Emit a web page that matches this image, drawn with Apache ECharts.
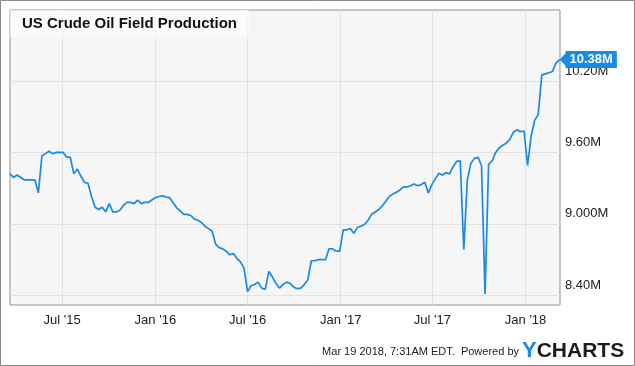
<!DOCTYPE html>
<html>
<head>
<meta charset="utf-8">
<script src="https://cdn.jsdelivr.net/npm/echarts@6/dist/echarts.min.js"></script>
<style>
	html, body { margin: 0; padding: 0; background: #fff; }
	#chart { width: 635px; height: 366px; }
</style>
</head>
<body>
<div id="chart"></div>
<script>
/* weekly field production, million barrels/day, weeks ending Friday */
var firstWeek = '2015-03-20';
var production = [
	9.42, 9.39, 9.41, 9.39, 9.37, 9.37, 9.37, 9.37, 9.26, 9.57,
	9.59, 9.61, 9.59, 9.60, 9.60, 9.60, 9.56, 9.56, 9.42, 9.46,
	9.40, 9.35, 9.34, 9.23, 9.14, 9.12, 9.14, 9.10, 9.17, 9.10,
	9.10, 9.115, 9.155, 9.18, 9.18, 9.17, 9.20, 9.17, 9.18, 9.18,
	9.20, 9.22, 9.23, 9.235, 9.225, 9.22, 9.18, 9.135, 9.11, 9.08,
	9.08, 9.07, 9.04, 9.03, 9.01, 8.98, 8.96, 8.94, 8.83, 8.80,
	8.79, 8.77, 8.74, 8.75, 8.71, 8.68, 8.63, 8.43, 8.48, 8.49,
	8.51, 8.46, 8.45, 8.60, 8.555, 8.50, 8.46, 8.49, 8.51, 8.50,
	8.47, 8.455, 8.46, 8.49, 8.53, 8.69, 8.69, 8.70, 8.70, 8.70,
	8.79, 8.79, 8.77, 8.77, 8.95, 8.95, 8.96, 8.92, 8.97, 8.98,
	8.995, 9.03, 9.08, 9.10, 9.12, 9.15, 9.19, 9.23, 9.25, 9.265,
	9.285, 9.31, 9.31, 9.32, 9.335, 9.32, 9.33, 9.35, 9.26, 9.33,
	9.38, 9.425, 9.41, 9.43, 9.42, 9.48, 9.525, 9.53, 8.785, 9.37,
	9.51, 9.55, 9.56, 9.49, 8.41, 9.50, 9.53, 9.60, 9.64, 9.66,
	9.68, 9.71, 9.77, 9.79, 9.775, 9.78, 9.49, 9.74, 9.87, 9.92,
	10.25, 10.26, 10.27, 10.28, 10.35, 10.38
];
var xTickDates = ['2015-07-01', '2016-01-01', '2016-07-01', '2017-01-01', '2017-07-01', '2018-01-01'];
var xTickLabels = ["Jul '15", "Jan '16", "Jul '16", "Jan '17", "Jul '17", "Jan '18"];
var yTickValues = [8.4, 9.0, 9.6, 10.2];
var yTickLabels = ['8.40M', '9.000M', '9.60M', '10.20M'];
var lastLabel = '10.38M';

var FONT = '"Liberation Sans", Arial, sans-serif';
var BLUE = '#1a8ae8';
var DAY = 86400000;

function ts(s) {
	var p = s.split('-');
	return Date.UTC(+p[0], +p[1] - 1, +p[2]);
}

var start = ts(firstWeek);
var seriesData = production.map(function(v, i) {
	return [start + i * 7 * DAY, v];
});
var lastPoint = seriesData[seriesData.length - 1];
var xTicks = xTickDates.map(ts);

var chart = echarts.init(document.getElementById('chart'), null, { renderer: 'canvas' });
var option = {
	animation: false,
	backgroundColor: '#ffffff',
	textStyle: { fontFamily: FONT },
	title: {
		text: 'US Crude Oil Field Production',
		left: 10,
		top: 10,
		padding: [6, 12, 6, 12],
		backgroundColor: 'rgba(255,255,255,0.6)',
		textStyle: {
			fontFamily: FONT,
			fontSize: 15,
			fontWeight: 'bold',
			color: '#111'
		}
	},
	grid: {
		left: 10,
		top: 10,
		width: 550,
		height: 295,
		show: true,
		backgroundColor: '#f6f6f6',
		borderColor: '#8f8f8f',
		borderWidth: 1,
		z: 0
	},
	xAxis: {
		type: 'value',
		min: start,
		max: ts('2018-03-10'),
		axisLine: { show: false },
		axisTick: { show: false, customValues: xTicks },
		axisLabel: {
			customValues: xTicks,
			margin: 9,
			fontSize: 13,
			color: '#222',
			fontFamily: FONT,
			formatter: function(val) {
				var i = xTicks.indexOf(val);
				return i >= 0 ? xTickLabels[i] : '';
			}
		},
		splitLine: { show: true, lineStyle: { color: '#e2e2e2', width: 1 } }
	},
	yAxis: {
		type: 'value',
		position: 'right',
		min: 8.318,
		max: 10.797,
		axisLine: { show: false },
		axisTick: { show: false, customValues: yTickValues },
		axisLabel: {
			customValues: yTickValues,
			margin: 5,
			fontSize: 13,
			color: '#222',
			fontFamily: FONT,
			verticalAlign: 'bottom',
			lineHeight: 14,
			padding: [0, 0, 3, 0],
			formatter: function(val) {
				for (var i = 0; i < yTickValues.length; i++) {
					if (Math.abs(yTickValues[i] - val) < 1e-6) return yTickLabels[i];
				}
				return '';
			}
		},
		splitLine: { show: true, lineStyle: { color: '#e2e2e2', width: 1 } }
	},
	series: [{
		type: 'line',
		data: seriesData,
		showSymbol: false,
		smooth: false,
		lineStyle: { color: BLUE, width: 1.7 },
		itemStyle: { color: BLUE },
		endLabel: {
			show: true,
			distance: 6,
			formatter: lastLabel,
			backgroundColor: BLUE,
			color: '#fff',
			fontWeight: 'bold',
			fontSize: 13,
			fontFamily: FONT,
			lineHeight: 13,
			padding: [2, 4, 2, 4]
		},
		markPoint: {
			symbol: 'triangle',
			symbolSize: [16, 8],
			symbolRotate: 90,
			symbolOffset: [4, 0],
			itemStyle: { color: BLUE },
			label: { show: false },
			data: [{ coord: lastPoint }]
		}
	}],
	graphic: [{
		type: 'rect',
		shape: { x: 0.5, y: 0.5, width: 634, height: 365 },
		style: { fill: null, stroke: '#8a8a8a', lineWidth: 1 },
		silent: true
	}, {
		type: 'text',
		right: 116,
		top: 346,
		style: {
			text: 'Mar 19 2018, 7:31AM EDT.  Powered by',
			fill: '#222',
			font: '11px "Liberation Sans", Arial, sans-serif'
		}
	}, {
		type: 'text',
		left: 522,
		top: 340,
		style: {
			text: '{y|Y}{c|CHARTS}',
			rich: {
				y: { fill: BLUE, fontSize: 22, fontWeight: 'bold', fontFamily: FONT },
				c: { fill: '#1c1c1c', fontSize: 21, fontWeight: 'bold', fontFamily: FONT }
			}
		}
	}]
};
chart.setOption(option);
</script>
</body>
</html>
